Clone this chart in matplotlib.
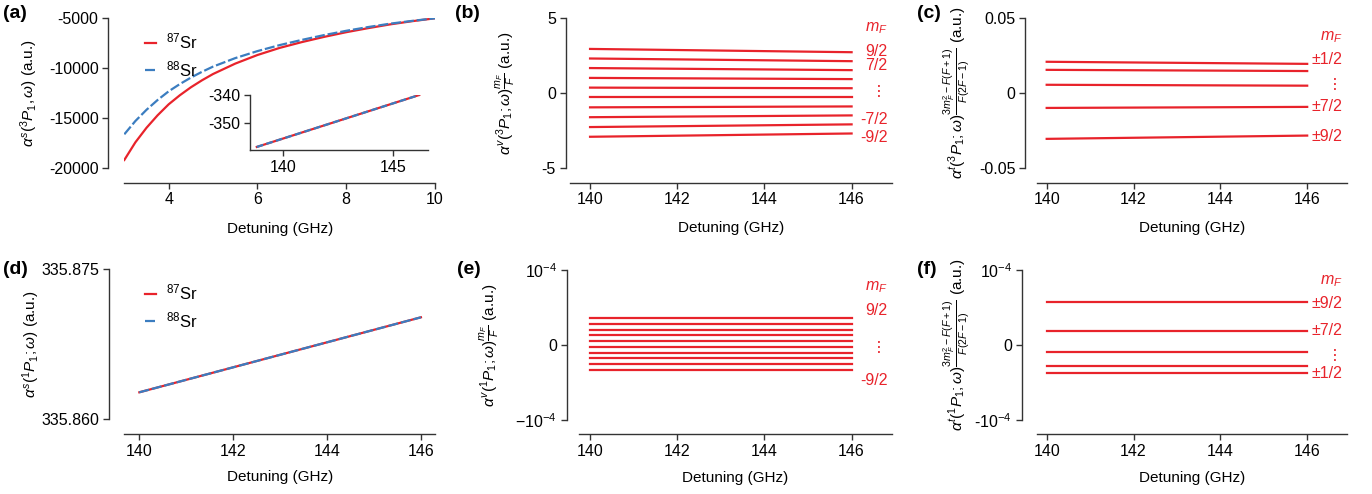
import matplotlib.pyplot as plt

# Polarizabilities of 3P1 and 1P1 near 140 GHz detuning (87Sr / 88Sr).

W, H = 1372, 494
RED = '#e8232b'
BLUE = '#3b7dc0'
DARK = '#333333'

plt.rcParams['font.family'] = ['Liberation Sans', 'DejaVu Sans']
plt.rcParams['mathtext.fontset'] = 'custom'
plt.rcParams['mathtext.rm'] = 'Liberation Sans'
plt.rcParams['mathtext.it'] = 'Liberation Sans:italic'
plt.rcParams['mathtext.bf'] = 'Liberation Sans:bold'
plt.rcParams['axes.unicode_minus'] = False

# (a) scalar 3P1, few GHz detuning
det_a = [3.0, 3.25, 3.5, 3.75, 4.0, 4.25, 4.5, 4.75, 5.0, 5.5, 6.0, 6.5,
         7.0, 7.5, 8.0, 8.5, 9.0, 9.5, 10.0]
sr87_a = [-19170, -17400, -15950, -14700, -13600, -12700, -11900, -11200,
          -10570, -9530, -8670, -7960, -7380, -6860, -6390, -5980, -5600,
          -5280, -5000]
sr88_a = [-16600, -15270, -14150, -13170, -12300, -11580, -10930, -10350,
          -9830, -8980, -8280, -7680, -7160, -6680, -6250, -5870, -5530,
          -5250, -5000]
det_inset = [138.8, 146.2]
sr87_inset = [-358.7, -340.0]
sr88_inset = [-358.7, -340.0]

# (b) vector 3P1, one line per mF = 9/2 ... -9/2
det = [140, 146]
vec3_140 = [2.95, 2.31, 1.67, 1.01, 0.36, -0.30, -0.96, -1.62, -2.28, -2.93]
vec3_146 = [2.73, 2.13, 1.53, 0.93, 0.32, -0.30, -0.90, -1.50, -2.10, -2.71]

# (c) tensor 3P1, |mF| = 1/2 ... 9/2
ten3_140 = [0.0209, 0.0155, 0.0055, -0.0100, -0.0307]
ten3_146 = [0.0195, 0.0147, 0.0049, -0.0093, -0.0285]

# (d) scalar 1P1
sr87_d = [335.8627, 335.8702]
sr88_d = [335.8627, 335.8702]

# (e) vector 1P1 (units of 1e-4)
vec1 = [0.360, 0.284, 0.204, 0.128, 0.053, -0.027, -0.103, -0.179, -0.259, -0.333]

# (f) tensor 1P1 (units of 1e-4), |mF| = 9/2, 7/2, 5/2, 3/2, 1/2
ten1 = [0.568, 0.191, -0.092, -0.280, -0.372]

fig = plt.figure(figsize=(13.72, 4.94), dpi=100)


def panel(l, r, t, b, xoff, yoff):
    ax = fig.add_axes([l / W, (H - b) / H, (r - l) / W, (b - t) / H])
    for s in ['top', 'right']:
        ax.spines[s].set_visible(False)
    for s in ['left', 'bottom']:
        ax.spines[s].set_color(DARK)
        ax.spines[s].set_linewidth(1.0)
    ax.spines['left'].set_position(('outward', xoff * 0.72))
    ax.spines['bottom'].set_position(('outward', yoff * 0.72))
    ax.tick_params(direction='out', length=4.5, width=1.0, color=DARK,
                   labelsize=11.5, pad=2.5)
    ax.patch.set_alpha(0)
    return ax


def mf_labels(ax, ys, texts):
    # ys are the visual centres of the digits; place the baseline below them
    for y, t in zip(ys, texts):
        ax.annotate(t, (146.82, y), xytext=(0, -4.0), textcoords='offset points',
                    color=RED, fontsize=11.5, ha='right', va='baseline')


# ---- (a)
ax = panel(124.3, 435, 18.3, 168.3, 16, 14.4)
ax.plot(det_a, sr87_a, color=RED, lw=1.6, label=r'$^{87}$Sr')
ax.plot(det_a, sr88_a, color=BLUE, lw=1.6, ls=(0, (4.5, 1.3)), label=r'$^{88}$Sr')
ax.set_xlim(3, 10)
ax.set_ylim(-20000, -5000)
ax.set_xticks([4, 6, 8, 10])
ax.set_yticks([-5000, -10000, -15000, -20000])
ax.set_xlabel('Detuning (GHz)', fontsize=11)
ax.set_ylabel(r'$\alpha^s(^3P_1,\omega)$ (a.u.)', fontsize=11)
ax.yaxis.set_label_coords(-0.27, 0.5)
ax.xaxis.set_label_coords(0.5, -0.355)
ax.legend(loc='upper left', bbox_to_anchor=(0.04, 0.965), frameon=False,
          fontsize=12, handlelength=0.65, handletextpad=0.6, borderpad=0,
          labelspacing=0.45)

ins = panel(250, 428, 95, 150, 0, 0)
ins.plot(det_inset, sr87_inset, color=RED, lw=1.6)
ins.plot(det_inset, sr88_inset, color=BLUE, lw=1.6, ls=(0, (3, 1.5)))
ins.set_xlim(138.49, 146.6)
ins.set_ylim(-359.8, -340)
ins.set_xticks([140, 145])
ins.set_yticks([-340, -350])

# ---- (b)
ax = panel(570, 891.7, 18.3, 167.7, 4.3, 15)
for y0, y1 in zip(vec3_140, vec3_146):
    ax.plot(det, [y0, y1], color=RED, lw=1.6)
ax.set_xlim(139.54, 146.92)
ax.set_ylim(-5, 5)
ax.set_xticks([140, 142, 144, 146])
ax.set_yticks([5, 0, -5])
ax.set_xlabel('Detuning (GHz)', fontsize=11)
ax.set_ylabel(r'$\alpha^v(^3P_1;\omega)\frac{m_F}{F}$ (a.u.)', fontsize=11)
ax.yaxis.set_label_coords(-0.165, 0.5)
ax.xaxis.set_label_coords(0.5, -0.355)
mf_labels(ax, [4.5, 2.84, 1.90, 0.2, -1.71, -2.89],
          [r'$m_F$', '9/2', '7/2', '⋮', '-7/2', '-9/2'])

# ---- (c)
ax = panel(1036.7, 1346.7, 18.3, 167.7, 11.7, 15)
for y0, y1 in zip(ten3_140, ten3_146):
    ax.plot(det, [y0, y1], color=RED, lw=1.6)
ax.set_xlim(139.77, 146.91)
ax.set_ylim(-0.05, 0.05)
ax.set_xticks([140, 142, 144, 146])
ax.set_yticks([0.05, 0, -0.05])
ax.set_yticklabels(['0.05', '0', '-0.05'])
ax.set_xlabel('Detuning (GHz)', fontsize=11)
ax.set_ylabel(r'$\alpha^t(^3P_1;\omega)\frac{3m_F^2-F(F+1)}{F(2F-1)}$ (a.u.)',
              fontsize=11)
ax.yaxis.set_label_coords(-0.209, 0.5)
ax.xaxis.set_label_coords(0.5, -0.355)
mf_labels(ax, [0.039, 0.0233, 0.0067, -0.0085, -0.0285],
          [r'$m_F$', '±1/2', '⋮', '±7/2', '±9/2'])

# ---- (d)
ax = panel(124.3, 435, 269.3, 419.3, 15, 15)
ax.plot(det, sr87_d, color=RED, lw=1.6, label=r'$^{87}$Sr')
ax.plot(det, sr88_d, color=BLUE, lw=1.6, ls=(0, (4.5, 1.3)), label=r'$^{88}$Sr')
ax.set_xlim(139.68, 146.3)
ax.set_ylim(335.860, 335.875)
ax.set_xticks([140, 142, 144, 146])
ax.set_yticks([335.875, 335.860])
ax.set_yticklabels(['335.875', '335.860'])
ax.set_xlabel('Detuning (GHz)', fontsize=11)
ax.set_ylabel(r'$\alpha^s(^1P_1;\omega)$ (a.u.)', fontsize=11)
ax.yaxis.set_label_coords(-0.265, 0.5)
ax.xaxis.set_label_coords(0.5, -0.34)
ax.legend(loc='upper left', bbox_to_anchor=(0.04, 0.965), frameon=False,
          fontsize=12, handlelength=0.65, handletextpad=0.6, borderpad=0,
          labelspacing=0.45)

# ---- (e)
ax = panel(579.3, 891.7, 270, 420, 12.6, 14.3)
for v in vec1:
    ax.plot(det, [v * 1e-4, v * 1e-4], color=RED, lw=1.6)
ax.set_xlim(139.755, 146.92)
ax.set_ylim(-1e-4, 1e-4)
ax.set_xticks([140, 142, 144, 146])
ax.set_yticks([1e-4, 0, -1e-4])
ax.set_yticklabels([r'$10^{-4}$', '0', '\u2212' + r'$10^{-4}$'])
ax.set_xlabel('Detuning (GHz)', fontsize=11)
ax.set_ylabel(r'$\alpha^v(^1P_1;\omega)\frac{m_F}{F}$ (a.u.)', fontsize=11)
ax.yaxis.set_label_coords(-0.25, 0.5)
ax.xaxis.set_label_coords(0.5, -0.34)
mf_labels(ax, [0.80e-4, 0.48e-4, -0.02e-4, -0.453e-4],
          [r'$m_F$', '9/2', '⋮', '-9/2'])

# ---- (f)
ax = panel(1036.7, 1346.7, 270, 420, 15, 14.3)
for v in ten1:
    ax.plot(det, [v * 1e-4, v * 1e-4], color=RED, lw=1.6)
ax.set_xlim(139.77, 146.91)
ax.set_ylim(-1e-4, 1e-4)
ax.set_xticks([140, 142, 144, 146])
ax.set_yticks([1e-4, 0, -1e-4])
ax.set_yticklabels([r'$10^{-4}$', '0', r'-$10^{-4}$'])
ax.set_xlabel('Detuning (GHz)', fontsize=11)
ax.set_ylabel(r'$\alpha^t(^1P_1;\omega)\frac{3m_F^2-F(F+1)}{F(2F-1)}$ (a.u.)',
              fontsize=11)
ax.yaxis.set_label_coords(-0.209, 0.5)
ax.xaxis.set_label_coords(0.5, -0.34)
mf_labels(ax, [0.88e-4, 0.568e-4, 0.204e-4, -0.12e-4, -0.365e-4],
          [r'$m_F$', '±9/2', '±7/2', '⋮', '±1/2'])

# panel letters
for x, y, s in [(3, 14, '(a)'), (455, 14, '(b)'), (917, 14, '(c)'),
                (3, 269, '(d)'), (457, 269, '(e)'), (917, 269, '(f)')]:
    fig.text(x / W, 1 - y / H, s, fontsize=14, fontweight='bold', va='center')

fig.savefig('out.png', dpi=100)
